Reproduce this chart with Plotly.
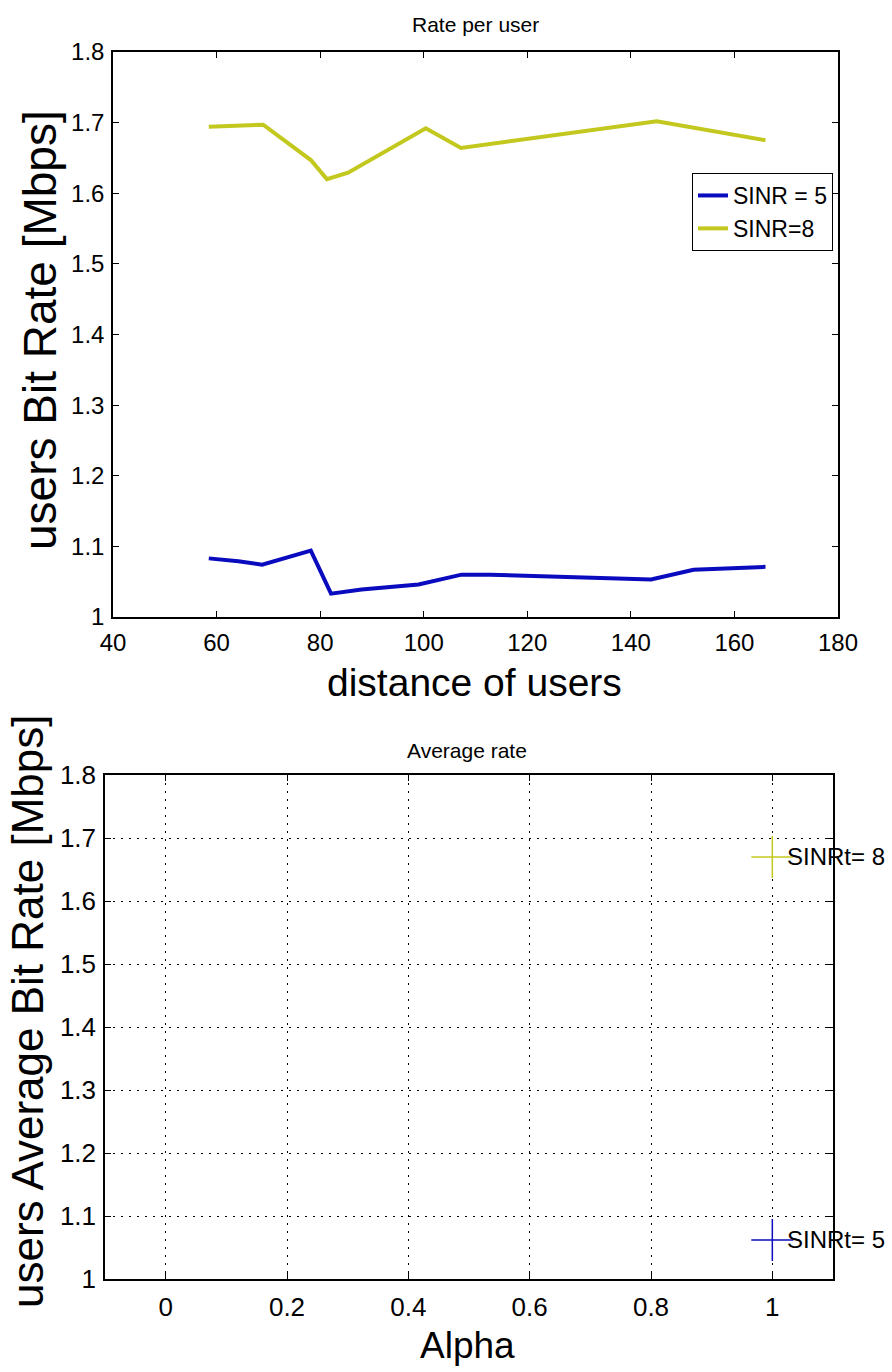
import plotly.graph_objects as go

# ---- data ----
dist_sinr5 = [58.5, 64.2, 68.8, 78.2, 82.1, 88.0, 99.0, 107.3, 112.8, 125.6, 135.6, 143.9, 152.1, 166.0]
rate_sinr5 = [1.083, 1.079, 1.074, 1.094, 1.033, 1.039, 1.046, 1.060, 1.060, 1.057, 1.056, 1.053, 1.067, 1.071]

dist_sinr8 = [58.5, 69.0, 78.2, 81.3, 85.4, 100.4, 107.2, 145.0, 166.0]
rate_sinr8 = [1.694, 1.697, 1.647, 1.620, 1.629, 1.692, 1.664, 1.702, 1.675]

alpha_vals = [1.0]
avg_sinr5 = [1.062]
avg_sinr8 = [1.670]
avg_labels5 = ["SINRt= 5"]
avg_labels8 = ["SINRt= 8"]

top_xticks = [40, 60, 80, 100, 120, 140, 160, 180]
y_ticks = [1.0, 1.1, 1.2, 1.3, 1.4, 1.5, 1.6, 1.7, 1.8]
y_ticktext = ["1", "1.1", "1.2", "1.3", "1.4", "1.5", "1.6", "1.7", "1.8"]
bot_xticks = [0, 0.2, 0.4, 0.6, 0.8, 1.0]
bot_xticktext = ["0", "0.2", "0.4", "0.6", "0.8", "1"]

W, H = 892, 1372
BLUE = "rgb(10,10,190)"
YEL = "rgb(195,200,30)"
FONT = "Liberation Sans, Arial, sans-serif"
TICKFONT = "Liberation Sans Narrow, Arial Narrow, Liberation Sans, Arial, sans-serif"


def fx(p):
    return p / W


def fy(p):
    return 1 - p / H


fig = go.Figure()
fig.add_trace(go.Scatter(x=dist_sinr5, y=rate_sinr5, mode="lines", name="SINR = 5",
                         line=dict(color=BLUE, width=4), xaxis="x", yaxis="y"))
fig.add_trace(go.Scatter(x=dist_sinr8, y=rate_sinr8, mode="lines", name="SINR=8",
                         line=dict(color=YEL, width=4), xaxis="x", yaxis="y"))

for vals, labels, col in [(avg_sinr8, avg_labels8, YEL), (avg_sinr5, avg_labels5, BLUE)]:
    fig.add_trace(go.Scatter(x=alpha_vals, y=vals, mode="markers", cliponaxis=False,
                             showlegend=False,
                             marker=dict(symbol="cross-thin", size=30, color=col,
                                         line=dict(width=1.5, color=col)),
                             xaxis="x2", yaxis="y2"))
    for xv, yv, lab in zip(alpha_vals, vals, labels):
        fig.add_annotation(text=lab, x=xv, y=yv, xref="x2", yref="y2", xanchor="left",
                           yanchor="middle", xshift=13, showarrow=False,
                           font=dict(family=FONT, size=24, color="black"))

common_axis = dict(showline=True, linecolor="black", linewidth=1.5, mirror="ticks",
                   ticks="inside", ticklen=6, tickcolor="black", tickwidth=1.2,
                   zeroline=False, automargin=False)

fig.update_layout(
    width=W, height=H,
    margin=dict(l=0, r=0, t=0, b=0, pad=0, autoexpand=False),
    paper_bgcolor="white", plot_bgcolor="white",
    showlegend=True,
    legend=dict(x=fx(833), xanchor="right", y=fy(173), yanchor="top",
                bgcolor="white", bordercolor="black", borderwidth=1,
                font=dict(family=FONT, size=23, color="black"),
                tracegroupgap=0),
    xaxis=dict(domain=[fx(113), fx(838)], range=[40, 180], tickvals=top_xticks,
               anchor="y", showgrid=False,
               tickfont=dict(family=TICKFONT, size=24, color="black"),
               ticklabelstandoff=3, **common_axis),
    yaxis=dict(domain=[fy(617), fy(52)], range=[1, 1.8], tickvals=y_ticks, ticktext=y_ticktext,
               anchor="x", showgrid=False,
               tickfont=dict(family=TICKFONT, size=24, color="black"),
               ticklabelstandoff=2, **common_axis),
    xaxis2=dict(domain=[fx(105), fx(833)], range=[-0.1, 1.1], tickvals=bot_xticks,
                ticktext=bot_xticktext, anchor="y2", showgrid=True, gridcolor="black",
                gridwidth=1, griddash="2px,6px",
                tickfont=dict(family=TICKFONT, size=26, color="black"),
                ticklabelstandoff=4, **common_axis),
    yaxis2=dict(domain=[fy(1279), fy(775)], range=[1, 1.8], tickvals=y_ticks, ticktext=y_ticktext,
                anchor="x2", showgrid=True, gridcolor="black", gridwidth=1, griddash="2px,6px",
                tickfont=dict(family=TICKFONT, size=26, color="black"),
                ticklabelstandoff=2, **common_axis),
)

annots = [
    dict(text="Rate per user", x=fx(475), y=fy(24), size=21, angle=0),
    dict(text="distance of users", x=fx(474), y=fy(682), size=39, angle=0),
    dict(text="users Bit Rate [Mbps]", x=fx(40), y=fy(330), size=46, angle=-90),
    dict(text="Average rate", x=fx(467), y=fy(750), size=21, angle=0),
    dict(text="Alpha", x=fx(467), y=fy(1345), size=37, angle=0),
    dict(text="users Average Bit Rate [Mbps]", x=fx(27), y=fy(1012), size=44, angle=-90),
]
for a in annots:
    fig.add_annotation(text=a["text"], x=a["x"], y=a["y"], xref="paper", yref="paper",
                       xanchor="center", yanchor="middle", showarrow=False,
                       textangle=a["angle"],
                       font=dict(family=FONT, size=a["size"], color="black"))

fig.write_html("out.html")
